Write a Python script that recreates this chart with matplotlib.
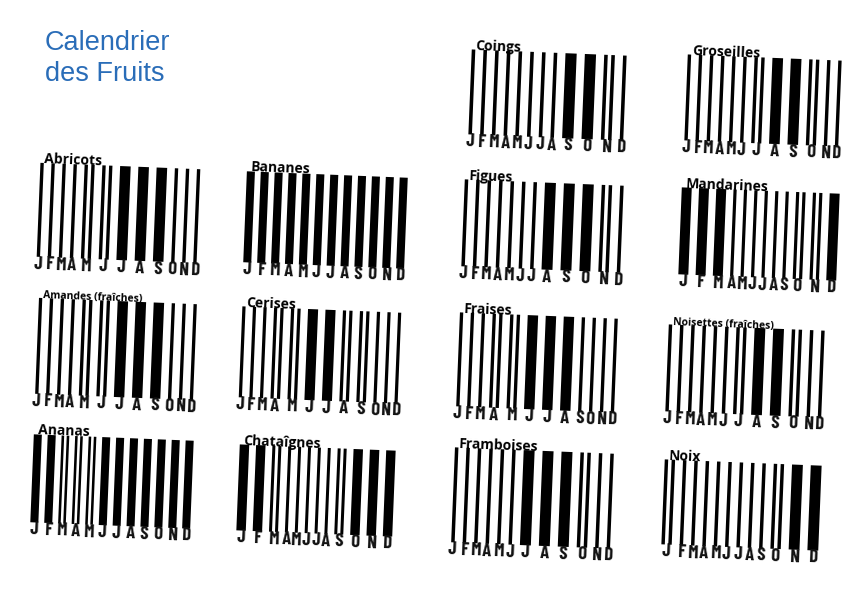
import matplotlib
matplotlib.use('Agg')
import matplotlib.pyplot as plt
from matplotlib.transforms import Affine2D
import numpy as np

# ---------------- data ----------------
mois = ['J', 'F', 'M', 'A', 'M', 'J', 'J', 'A', 'S', 'O', 'N', 'D']
# 1 = hors saison (une barre fine), 2 = début/fin (deux barres fines), 3 = pleine saison (barre épaisse)
abricots   = [1, 1, 1, 1, 2, 2, 3, 3, 3, 1, 1, 1]
bananes    = [3, 3, 3, 3, 3, 3, 3, 3, 3, 3, 3, 3]
amandes    = [1, 1, 1, 1, 2, 2, 3, 3, 3, 1, 1, 1]
cerises    = [1, 1, 1, 2, 2, 3, 3, 2, 2, 1, 1, 1]
ananas     = [3, 3, 2, 2, 2, 3, 3, 3, 3, 3, 3, 3]
chataignes = [3, 3, 2, 1, 1, 1, 1, 1, 2, 3, 3, 3]
coings     = [1, 1, 1, 1, 1, 1, 1, 1, 3, 3, 2, 1]
groseilles = [1, 1, 1, 1, 1, 1, 2, 3, 3, 2, 1, 1]
figues     = [1, 1, 1, 1, 1, 1, 1, 3, 3, 3, 2, 1]
mandarines = [3, 3, 3, 1, 1, 1, 1, 1, 1, 2, 2, 3]
fraises    = [1, 1, 1, 2, 2, 3, 3, 3, 1, 1, 1, 1]
noisettes  = [1, 1, 1, 1, 1, 1, 2, 3, 3, 2, 1, 1]
framboises = [1, 1, 1, 1, 1, 1, 3, 3, 3, 2, 1, 1]
noix       = [2, 1, 1, 1, 1, 1, 1, 1, 1, 2, 3, 3]

fruits = ['Abricots', 'Bananes', 'Amandes (fraîches)', 'Cerises', 'Ananas', 'Chataîgnes',
          'Coings', 'Groseilles', 'Figues', 'Mandarines', 'Fraises', 'Noisettes (fraîches)',
          'Framboises', 'Noix']
saisons = [abricots, bananes, amandes, cerises, ananas, chataignes,
           coings, groseilles, figues, mandarines, fraises, noisettes,
           framboises, noix]

# ---------------- layout (pixels, origin top-left) ----------------
W, H = 861, 596
layout = [
    (118.5, 213, 160, 94),   # Abricots
    (325.5, 220, 161, 91),   # Bananes
    (116, 349, 158, 96),     # Amandes
    (320, 355, 159, 91),     # Cerises
    (112, 481.5, 160, 88),   # Ananas
    (316, 490.5, 156, 86),   # Chataignes
    (547.5, 95, 155, 85),    # Coings
    (763, 100.5, 154, 86),   # Groseilles
    (542.5, 226, 159, 87),   # Figues
    (759, 234, 158, 87),     # Mandarines
    (537, 362.5, 158, 94),   # Fraises
    (745, 371, 156, 87),     # Noisettes
    (532.5, 498, 159, 95),   # Framboises
    (741.5, 505, 157, 85),   # Noix
]
title_sizes = [10, 10, 7.5, 10, 10, 10, 10, 10, 10, 10, 10, 7.5, 10, 10]
ANG = 2.3
t, T, g = 3.5, 11.0, 8.0
gw = {1: t, 2: 3 * t, 3: T}

fig = plt.figure(figsize=(W / 100, H / 100), dpi=100)
fig.patch.set_facecolor('white')

fig.text(45 / W, 1 - 50 / H, 'Calendrier', fontsize=19.5, color='#2a6db8',
         family='Liberation Sans', va='baseline', ha='left')
fig.text(45 / W, 1 - 81 / H, 'des Fruits', fontsize=19.5, color='#2a6db8',
         family='Liberation Sans', va='baseline', ha='left')

for name, codes, (cx, cy, w, h), tsz in zip(fruits, saisons, layout, title_sizes):
    ax = fig.add_axes([(cx - w / 2) / W, (H - cy - h / 2) / H, w / W, h / H])
    ax.set_axis_off()
    rot = Affine2D().rotate_deg_around(cx, H - cy, -ANG)
    trans = ax.transData + rot

    xs, ws, centers = [], [], []
    left = 0.0
    for c in codes:
        if c == 1:
            xs.append(left + t / 2); ws.append(t)
        elif c == 2:
            xs += [left + t / 2, left + 2.5 * t]; ws += [t, t]
        else:
            xs.append(left + T / 2); ws.append(T)
        centers.append(left + gw[c] / 2)
        left += gw[c] + g
    total = left - g

    bars = ax.bar(xs, 1, width=ws, bottom=0, color='black', linewidth=0)
    ax.set_xlim(0, total)
    ax.set_ylim(0, 1)
    for b in bars:
        b.set_transform(trans)
        b.set_clip_on(False)

    for c, m in zip(centers, mois):
        ax.text(c, 0.01, m, transform=trans, ha='center', va='top',
                rotation=-ANG, rotation_mode='anchor', fontsize=13.5,
                fontweight='bold', family=['Barlow Condensed', 'DejaVu Sans'],
                color='#111111', clip_on=False)

    ax.text(4 / w, 1.0, name, transform=ax.transAxes + rot, ha='left', va='baseline',
            rotation=-ANG, rotation_mode='anchor', fontsize=tsz, fontweight='bold',
            family='Open Sans', color='black', clip_on=False)

fig.savefig('out.png', dpi=100, facecolor='white')
